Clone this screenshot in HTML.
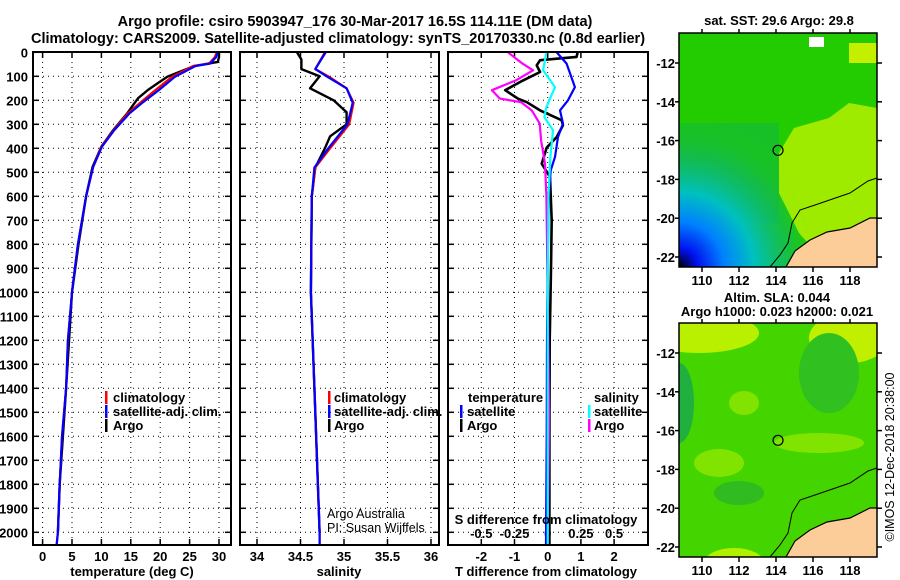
<!DOCTYPE html>
<html><head><meta charset="utf-8"><style>
html,body{margin:0;padding:0;background:#fff;}
svg{display:block;font-family:"Liberation Sans",sans-serif;}
.t{font-weight:bold;font-size:13px;fill:#000;}
.h{font-weight:bold;font-size:14.5px;fill:#000;}
</style></head><body>
<svg id="c" width="900" height="580" viewBox="0 0 900 580" xmlns="http://www.w3.org/2000/svg">
<text class="h" x="355" y="26" text-anchor="middle">Argo profile: csiro 5903947_176 30-Mar-2017 16.5S 114.11E (DM data)</text>
<text class="h" x="338" y="43" text-anchor="middle">Climatology: CARS2009. Satellite-adjusted climatology: synTS_20170330.nc (0.8d earlier)</text>
<g id="g"></g>
</svg>
<script>
// ---------- data ----------
const depthTicks=[0,100,200,300,400,500,600,700,800,900,1000,1100,1200,1300,1400,1500,1600,1700,1800,1900,2000];
const tempTicks=[0,5,10,15,20,25,30];
const salTicks=[34,34.5,35,35.5,36];
const salTickLabels=["34","34.5","35","35.5","36"];
const tdiffTicks=[-2,-1,0,1,2];
const sdiffTicks=[-0.5,-0.25,0,0.25,0.5];
const sdiffTickLabels=["-0.5","-0.25","0","0.25","0.5"];
const latTicks=[-12,-14,-16,-18,-20,-22];
const lonTicks=[110,112,114,116,118];

const tClimDepth=[0,20,47,57,102,157,206,254,324,393,477,600,700,800,900,1000,1200,1400,1600,1800,2000,2050];
const tClimVal=[29.6,29.3,28.3,25.6,22.0,19.2,16.8,14.5,12.1,10.0,8.6,7.4,6.7,6.0,5.5,5.0,4.3,4.0,3.3,2.9,2.6,2.4];
const tSatVal=[29.8,29.5,28.5,26.0,22.5,19.8,17.2,14.8,12.2,10.1,8.6,7.4,6.7,6.0,5.5,5.0,4.3,4.0,3.3,2.9,2.6,2.4];
const tArgoDepth=[0,20,40,57,102,130,157,190,206,254,324,393,477,600,800,1000,1400,1800,2000];
const tArgoVal=[30.0,30.0,29.8,25.8,21.2,19.5,17.9,16.3,15.8,14.4,12.0,10.0,8.5,7.4,6.1,5.0,4.0,2.9,2.6];

const sDepth=[0,70,100,150,210,300,400,480,600,1000,1500,2000,2050];
const sClimVal=[34.78,34.67,34.82,35.03,35.11,35.06,34.84,34.67,34.63,34.62,34.67,34.72,34.72];
const sSatVal=[34.79,34.67,34.80,35.03,35.10,35.04,34.82,34.66,34.63,34.62,34.67,34.72,34.72];
const sArgoDepth=[0,30,70,100,150,200,250,300,350,400,480,600,1000,1500,2000];
const sArgoVal=[34.46,34.51,34.51,34.72,34.61,34.88,35.03,35.03,34.84,34.78,34.67,34.63,34.62,34.67,34.72];

const dTDepth=[0,47,145,200,242,297,353,436,492,600,900,1200,1600,2050];
const dTSat=[0.27,0.57,0.82,0.61,0.37,0.46,0.31,0.22,0.09,0.03,0.0,-0.02,-0.03,-0.05];
const dTArgoDepth=[0,19,33,54,82,117,158,193,208,242,283,304,353,397,464,519,700,900,1200,1600,2050];
const dTArgo=[0.9,0.87,-0.23,-0.33,-0.23,-0.74,-1.28,-0.9,-0.63,-0.23,0.42,0.46,0.27,-0.03,-0.18,0.07,0.12,0.1,0.06,0.05,0.05];
const dSDepth=[0,75,145,228,270,325,436,600,1000,1500,2050];
const dSSat=[-0.01,-0.035,0.055,-0.01,-0.025,0.04,0.02,0.005,0.0,0.0,0.0];
const dSArgoDepth=[0,47,75,117,158,193,208,242,297,367,464,600,1000,1500,2050];
const dSArgo=[-0.3,-0.19,-0.11,-0.24,-0.42,-0.36,-0.2,-0.12,-0.06,-0.05,-0.02,-0.01,0.0,0.01,0.0];

// ---------- helpers ----------
const NS="http://www.w3.org/2000/svg";
const G=document.getElementById('g');
function mk(tag,attrs,parent){const e=document.createElementNS(NS,tag);for(const k in attrs)e.setAttribute(k,attrs[k]);(parent||G).appendChild(e);return e;}
const yD=d=>52.3+d*0.24;
const PT={l:33,r:231}, PS={l:240,r:439}, PD={l:448,r:648};
const pTop=52, pBot=545;
const xT=v=>42.6+v*5.88;
const xS=v=>257+(v-34)*87;
const xDT=v=>547.7+v*33.2;
const xDS=v=>547.7+v*132.8;

function frame(p,name){
  const r=mk('rect',{x:p.l,y:pTop,width:p.r-p.l,height:pBot-pTop,fill:'none',stroke:'#000','stroke-width':2});
  
  
}
function hgrid(p){
  depthTicks.forEach(d=>{const y=yD(d);
    const l=mk('line',{x1:p.l,x2:p.r,y1:y,y2:y,stroke:'#000','stroke-width':1,'stroke-dasharray':'1,4'});
    
    
    mk('line',{x1:p.l,x2:p.l+6,y1:y,y2:y,stroke:'#000','stroke-width':1.5});
    mk('line',{x1:p.r-6,x2:p.r,y1:y,y2:y,stroke:'#000','stroke-width':1.5});
  });
}
function vgrid(vals,fx,p,labels,ly){
  vals.forEach((v,i)=>{const x=fx(v);
    const l=mk('line',{x1:x,x2:x,y1:pTop,y2:pBot,stroke:'#000','stroke-width':1,'stroke-dasharray':'1,4'});
    
    
    mk('line',{x1:x,x2:x,y1:pBot-6,y2:pBot,stroke:'#000','stroke-width':1.5});
    mk('line',{x1:x,x2:x,y1:pTop,y2:pTop+6,stroke:'#000','stroke-width':1.5});
    if(labels){const t=mk('text',{x:x,y:ly,class:'t','text-anchor':'middle'});t.textContent=labels[i];
      
      }
  });
}
function txt(x,y,s,name,extra,parent){const t=mk('text',Object.assign({x:x,y:y,class:'t'},extra||{}),parent);t.textContent=s;
  
  
  return t;}
function legendMark(x,y,c){const e=mk('rect',{x:x,y:y-11,width:2.5,height:13,fill:c});
  
  }
function lineIn(g,depths,vals,fx,color,name,w){
  const pts=depths.map((d,i)=>fx(vals[i]).toFixed(1)+','+yD(d).toFixed(1)).join(' ');
  const e=mk('polyline',{points:pts,fill:'none',stroke:color,'stroke-width':w||2.2,'stroke-linejoin':'round'},g);
  
  
}

const defs=mk('defs',{});
[['cT',PT],['cS',PS],['cD',PD]].forEach(([id,p])=>{const c=mk('clipPath',{id:id},defs);mk('rect',{x:p.l,y:pTop,width:p.r-p.l,height:pBot-pTop},c);});

// ---------- temperature panel ----------
hgrid(PT);
vgrid(tempTicks,xT,PT,tempTicks.map(String),561);
depthTicks.forEach(d=>{txt(28,yD(d)+5,String(d),'depth-tick-label',{'text-anchor':'end'});});
const gT=mk('g',{'clip-path':'url(#cT)'});
lineIn(gT,tArgoDepth,tArgoVal,xT,'#000','temp-argo-line',2.4);
lineIn(gT,tClimDepth,tClimVal,xT,'#f00','temp-climatology-line');
lineIn(gT,tClimDepth,tSatVal,xT,'#00f','temp-satellite-line');
frame(PT,'temperature-panel');
legendMark(105,402,'#f00');txt(113,402,'climatology','legend-climatology');
legendMark(105,416,'#00f');txt(113,416,'satellite-adj. clim.','legend-satellite');
legendMark(105,430,'#000');txt(113,430,'Argo','legend-argo');
txt(132,576,'temperature (deg C)','x-axis-title-temperature',{'text-anchor':'middle'});

// ---------- salinity panel ----------
hgrid(PS);
vgrid(salTicks,xS,PS,salTickLabels,561);
const gS=mk('g',{'clip-path':'url(#cS)'});
lineIn(gS,sArgoDepth,sArgoVal,xS,'#000','sal-argo-line',2.4);
lineIn(gS,sDepth,sClimVal,xS,'#f00','sal-climatology-line');
lineIn(gS,sDepth,sSatVal,xS,'#00f','sal-satellite-line');
frame(PS,'salinity-panel');
legendMark(328,402,'#f00');txt(334,402,'climatology','legend-climatology-sal');
legendMark(328,416,'#00f');txt(334,416,'satellite-adj. clim.','legend-satellite-sal');
legendMark(328,430,'#000');txt(334,430,'Argo','legend-argo-sal');
txt(327,518,'Argo Australia','credit-argo-australia',{style:'font-weight:normal;font-size:12.5px'});
txt(327,532,'PI: Susan Wijffels','credit-pi',{style:'font-weight:normal;font-size:12.5px'});
txt(339,576,'salinity','x-axis-title-salinity',{'text-anchor':'middle'});

// ---------- difference panel ----------
hgrid(PD);
vgrid(tdiffTicks,xDT,PD,tdiffTicks.map(String),561);
sdiffTicks.forEach((v,i)=>{txt(xDS(v),538,sdiffTickLabels[i],'s-diff-tick-label',{'text-anchor':'middle'});});
const gD=mk('g',{'clip-path':'url(#cD)'});
lineIn(gD,dTArgoDepth,dTArgo,xDT,'#000','tdiff-argo-line',2.6);
lineIn(gD,dSArgoDepth,dSArgo,xDS,'#f0f','sdiff-argo-line');
lineIn(gD,dTDepth,dTSat,xDT,'#00f','tdiff-satellite-line');
lineIn(gD,dSDepth,dSSat,xDS,'#0ff','sdiff-satellite-line');
frame(PD,'difference-panel');
txt(468,402,'temperature','legend-temperature-header');
legendMark(460,416,'#00f');txt(467,416,'satellite','legend-tdiff-satellite');
legendMark(460,430,'#000');txt(467,430,'Argo','legend-tdiff-argo');
txt(594,402,'salinity','legend-salinity-header');
legendMark(588,416,'#0ff');txt(594,416,'satellite','legend-sdiff-satellite');
legendMark(588,430,'#f0f');txt(594,430,'Argo','legend-sdiff-argo');
txt(546,524,'S difference from climatology','s-diff-axis-title',{'text-anchor':'middle'});
txt(546,576,'T difference from climatology','t-diff-axis-title',{'text-anchor':'middle'});

// ---------- maps ----------
const M={l:679,r:877,w:198};
const xLon=v=>702+(v-110)*18.5;
function mapFrame(t,b,name,type){
  const g=mk('g',{});
  
  
  const cid='clip'+type;const c=mk('clipPath',{id:cid},defs);mk('rect',{x:M.l,y:t,width:M.w,height:b-t},c);
  const gi=mk('g',{'clip-path':'url(#'+cid+')'},g);
  const yLat=v=>t+30+(-12-v)*19.4;
  if(type==='sst'){
    mk('rect',{x:M.l,y:t,width:M.w,height:b-t,fill:'#22cc00'},gi);
    mk('rect',{x:M.l,y:t+90,width:100,height:100,fill:'#11b840',opacity:'0.6'},gi);
    const gr=mk('radialGradient',{id:'blueg',gradientUnits:'userSpaceOnUse',cx:M.l,cy:b,r:150},defs);
    mk('stop',{offset:'0','stop-color':'#000000'},gr);
    mk('stop',{offset:'0.12','stop-color':'#0010ee'},gr);
    mk('stop',{offset:'0.3','stop-color':'#0080ff'},gr);
    mk('stop',{offset:'0.5','stop-color':'#00c0c0'},gr);
    mk('stop',{offset:'0.75','stop-color':'#10b860','stop-opacity':'0.6'},gr);
    mk('stop',{offset:'1','stop-color':'#22cc00','stop-opacity':'0'},gr);
    mk('rect',{x:M.l,y:t,width:M.w,height:b-t,fill:'url(#blueg)'},gi);
    mk('polygon',{points:`${M.l+100},${t+120} ${M.l+115},${t+95} ${M.l+150},${t+85} ${M.l+170},${t+70} ${M.r},${t+75} ${M.r},${b} ${M.l+150},${b} ${M.l+120},${t+200} ${M.l+100},${t+160}`,fill:'#b4f000',opacity:'0.85'},gi);
    mk('rect',{x:M.l+170,y:t+10,width:28,height:20,fill:'#c4f000'},gi);
    mk('rect',{x:M.l+130,y:t+4,width:15,height:10,fill:'#fff'},gi);
  } else {
    mk('rect',{x:M.l,y:t,width:M.w,height:b-t,fill:'#44d400'},gi);
    const blobs=[[M.l+20,t+10,60,20,'#b8f000'],[M.l+170,t+15,40,25,'#c0f000'],[M.l+65,t+80,15,12,'#80e400'],[M.l+55,t+240,30,15,'#b0f000'],
      [M.l+40,t+140,25,14,'#80e400'],[M.l+140,t+120,45,10,'#80e400'],[M.l+150,t+50,30,40,'#30c020'],[M.l+0,t+80,15,40,'#20b040'],[M.l+60,t+170,25,12,'#30bb20']];
    blobs.forEach(b2=>{mk('ellipse',{cx:b2[0],cy:b2[1],rx:b2[2],ry:b2[3],fill:b2[4]},gi);});
  }
  mk('polygon',{points:`${M.r},${t+185} 870,${t+185} 850,${t+195} 827,${t+199} 810,${t+207} 795,${t+218} 786,${t+234} ${M.r},${t+234}`,fill:'#fccc99'},gi);
  mk('polyline',{points:`${M.r},${t+185} 870,${t+185} 850,${t+195} 827,${t+199} 810,${t+207} 795,${t+218} 786,${t+234}`,fill:'none',stroke:'#000','stroke-width':1.2},gi);
  mk('polyline',{points:`${M.r},${t+145} 868,${t+148} 850,${t+160} 815,${t+172} 800,${t+177} 792,${t+190} 788,${t+210} 780,${t+222} 770,${t+234}`,fill:'none',stroke:'#000','stroke-width':1},gi);
  mk('circle',{cx:xLon(114.11),cy:yLat(-16.5),r:5,fill:'none',stroke:'#000','stroke-width':1.2},g);
  mk('rect',{x:M.l,y:t,width:M.w,height:b-t,fill:'none',stroke:'#000','stroke-width':1.5},g);
  latTicks.forEach(v=>{const y=yLat(v);
    mk('line',{x1:M.r,x2:M.r+5,y1:y,y2:y,stroke:'#000','stroke-width':1.5},g);
    mk('line',{x1:M.l-4,x2:M.l,y1:y,y2:y,stroke:'#000','stroke-width':1.5},g);
    txt(M.l-4,y+5,String(v),'lat-tick-label',{'text-anchor':'end'});
  });
  lonTicks.forEach(v=>{const x=xLon(v);mk('line',{x1:x,x2:x,y1:b,y2:b+5,stroke:'#000','stroke-width':1.5},g);
    mk('line',{x1:x,x2:x,y1:t-4,y2:t,stroke:'#000','stroke-width':1.5},g);
    txt(x,b+18,String(v),'lon-tick-label',{'text-anchor':'middle'});});
}
mapFrame(33,267,'sst-map','sst');
mapFrame(323,557,'sla-map','sla');
txt(779,25,'sat. SST: 29.6 Argo: 29.8','sst-map-title',{'text-anchor':'middle'});
txt(777,302,'Altim. SLA: 0.044','sla-map-title',{'text-anchor':'middle'});
txt(777,316,'Argo h1000: 0.023 h2000: 0.021','sla-map-subtitle',{'text-anchor':'middle'});
txt(0,0,'©IMOS 12-Dec-2018 20:38:00','imos-timestamp',{'text-anchor':'middle',transform:'translate(894,457) rotate(-90)',style:'font-weight:normal;font-size:12.5px'});
</script>
</body></html>
